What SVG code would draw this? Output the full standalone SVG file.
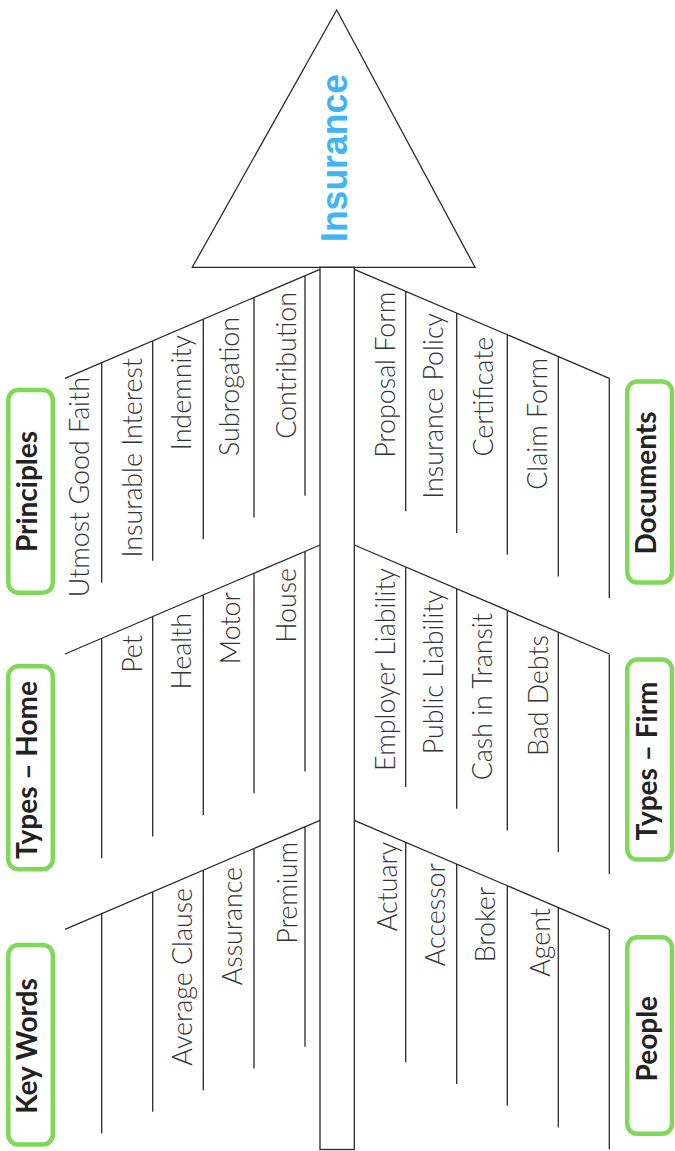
<svg xmlns="http://www.w3.org/2000/svg" width="675" height="1151" viewBox="0 0 675 1151">
<style>
.ln{stroke:#2a2a2a;stroke-width:1.3;fill:none}
.box{fill:#fff;stroke:#7ed957;stroke-width:4.5}
.lbl{font-family:Lato,"Open Sans",sans-serif;font-weight:300;font-size:26.8px;fill:#333;text-anchor:end}
.hd{font-family:Lato,"Liberation Sans",sans-serif;font-weight:700;font-size:28px;fill:#222;text-anchor:middle}
.title{font-family:"Liberation Sans",Arial,sans-serif;font-weight:700;font-size:37px;fill:#3db5f7;text-anchor:middle}
</style>
<rect width="675" height="1151" fill="#fff"/>
<g id="connectors">
  <rect class="ln" x="320" y="267.3" width="34.3" height="882.2"/>
  <path class="ln" d="M320 269.3L65 378.3M101.7 362.6V582.6M152.7 340.8V560.8M203.3 319.2V539.2M254 297.5V517.5M305 275.7V495.7"/>
  <path class="ln" d="M354.3 269.3L609.3 378.3M405.7 291.3V511.3M456.7 313.1V533.1M507.3 334.7V554.7M558.3 356.5V576.5M609.3 378.3V598.3"/>
  <path class="ln" d="M320 545L65 654M101.7 638.3V858.3M152.7 616.5V836.5M203.3 594.9V814.9M254 573.2V793.2M305 551.4V771.4"/>
  <path class="ln" d="M354.3 545L609.3 654M405.7 567V787M456.7 588.8V808.8M507.3 610.4V830.4M558.3 632.2V852.2M609.3 654V874"/>
  <path class="ln" d="M320 820.3L65 929.3M101.7 913.6V1133.6M152.7 891.8V1111.8M203.3 870.2V1090.2M254 848.5V1068.5M305 826.7V1046.7"/>
  <path class="ln" d="M354.3 820.3L609.3 929.3M405.7 842.3V1062.3M456.7 864.1V1084.1M507.3 885.7V1105.7M558.3 907.5V1127.5M609.3 929.3V1149.3"/>
</g>
<g id="insurance">
  <polygon class="ln" points="336.7,10 192.3,267.3 475,267.3" fill="#fff"/>
  <text class="title" transform="translate(346.5,158) rotate(-90)" textLength="168" lengthAdjust="spacingAndGlyphs">Insurance</text>
</g>
<g id="principles">
  <rect class="box" x="8.3" y="390" width="44.5" height="202.7" rx="10"/>
  <text class="hd" transform="translate(36.5,491.5) rotate(-90)">Principles</text>
  <text class="lbl" transform="translate(89,377) rotate(-90)">Utmost Good Faith</text>
  <text class="lbl" transform="translate(141.5,358) rotate(-90)">Insurable Interest</text>
  <text class="lbl" transform="translate(191,335) rotate(-90)">Indemnity</text>
  <text class="lbl" transform="translate(239,317) rotate(-90)">Subrogation</text>
  <text class="lbl" transform="translate(296,292) rotate(-90)">Contribution</text>
</g>
<g id="types-home">
  <rect class="box" x="8.3" y="666.3" width="44.5" height="203" rx="10"/>
  <text class="hd" transform="translate(36.5,770) rotate(-90)">Types – Home</text>
  <text class="lbl" transform="translate(141.5,635) rotate(-90)">Pet</text>
  <text class="lbl" transform="translate(190.5,613) rotate(-90)">Health</text>
  <text class="lbl" transform="translate(239.5,592) rotate(-90)">Motor</text>
  <text class="lbl" transform="translate(296,568) rotate(-90)">House</text>
</g>
<g id="key-words">
  <rect class="box" x="8.3" y="945" width="44.5" height="199.5" rx="10"/>
  <text class="hd" transform="translate(36.5,1046) rotate(-90)">Key Words</text>
  <text class="lbl" transform="translate(191.5,888) rotate(-90)">Average Clause</text>
  <text class="lbl" transform="translate(241.5,867) rotate(-90)">Assurance</text>
  <text class="lbl" transform="translate(296.5,842) rotate(-90)">Premium</text>
</g>
<g id="documents">
  <rect class="box" x="627.3" y="381.6" width="44.7" height="201" rx="10"/>
  <text class="hd" transform="translate(656,483) rotate(-90)">Documents</text>
  <text class="lbl" transform="translate(395,291.7) rotate(-90)">Proposal Form</text>
  <text class="lbl" transform="translate(442.5,313) rotate(-90)">Insurance Policy</text>
  <text class="lbl" transform="translate(492.5,336.7) rotate(-90)">Certificate</text>
  <text class="lbl" transform="translate(547,358) rotate(-90)">Claim Form</text>
</g>
<g id="types-firm">
  <rect class="box" x="627.3" y="659.6" width="44.7" height="200" rx="10"/>
  <text class="hd" transform="translate(656.5,761) rotate(-90)">Types – Firm</text>
  <text class="lbl" transform="translate(395,568) rotate(-90)">Employer Liability</text>
  <text class="lbl" transform="translate(442.5,590) rotate(-90)">Public Liability</text>
  <text class="lbl" transform="translate(492,613) rotate(-90)">Cash in Transit</text>
  <text class="lbl" transform="translate(547.5,635) rotate(-90)">Bad Debts</text>
</g>
<g id="people">
  <rect class="box" x="627.3" y="937.3" width="44.7" height="196.5" rx="10"/>
  <text class="hd" transform="translate(656.5,1038.7) rotate(-90)">People</text>
  <text class="lbl" transform="translate(397.3,841.7) rotate(-90)">Actuary</text>
  <text class="lbl" transform="translate(445,863) rotate(-90)">Accessor</text>
  <text class="lbl" transform="translate(494.5,886.7) rotate(-90)">Broker</text>
  <text class="lbl" transform="translate(549.5,908) rotate(-90)">Agent</text>
</g>
</svg>
